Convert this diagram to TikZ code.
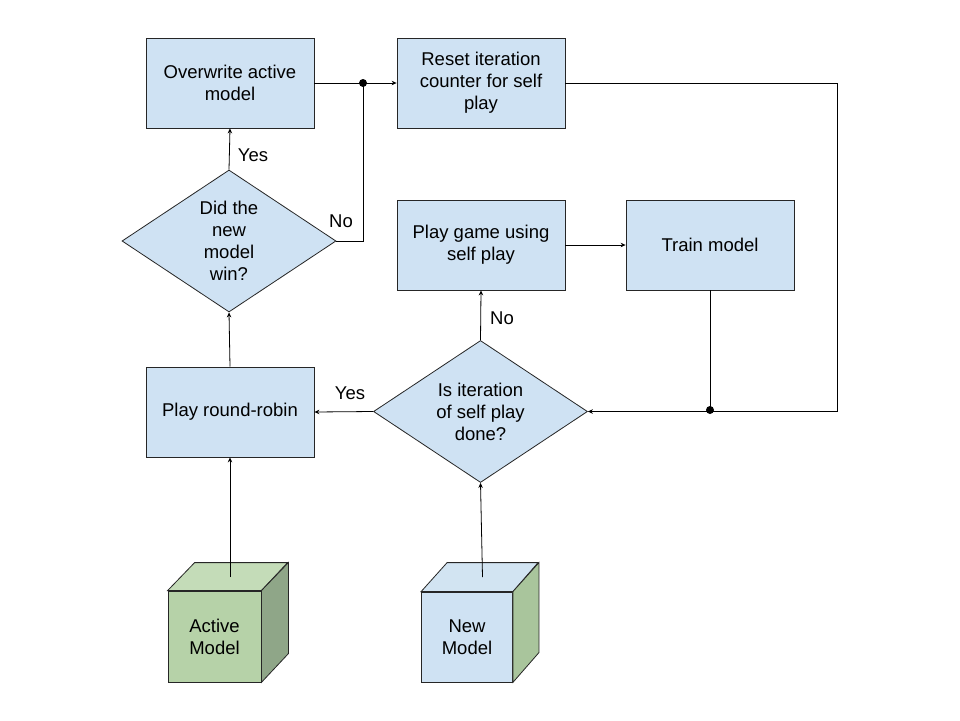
\documentclass[tikz,border=0pt]{standalone}
\usepackage{fontspec}
\setmainfont{Liberation Sans}
\usetikzlibrary{shapes.geometric,arrows.meta}
\definecolor{boxblue}{HTML}{CFE2F3}
\definecolor{amfront}{HTML}{B6D2A8}
\definecolor{amtop}{HTML}{C4DCB8}
\definecolor{amside}{HTML}{8FA688}
\definecolor{nmside}{HTML}{A9C59C}
\definecolor{nmtop}{HTML}{D2E4F2}
\begin{document}
\begin{tikzpicture}[x=1pt,y=-1pt,
  every node/.style={font=\fontsize{18.5}{22}\selectfont},
  procbox/.style={draw=black!85, line width=0.8pt, fill=boxblue, minimum width=168pt, minimum height=90pt, align=center, inner sep=2pt},
  decision/.style={diamond, draw=black!85, line width=0.8pt, fill=boxblue, aspect=1.5, minimum width=214pt, minimum height=142pt, inner sep=0pt, align=center},
  cubeface/.style={draw=black!85, line width=0.8pt},
  conn/.style={draw=black, line width=0.8pt},
  arr/.style={conn, -{Stealth[length=5pt,width=4.5pt]}},
  junction/.style={circle, fill=black, inner sep=0pt, minimum size=8pt},
  lbl/.style={inner sep=1pt}]
\useasboundingbox (0,0) rectangle (960,720);
\fill[white] (0,0) rectangle (960,720);

% process boxes
\node[procbox] (over) at (230,83) {Overwrite active\\model};
\node[procbox] (reset) at (481,83) {Reset iteration\\counter for self\\play};
\node[procbox] (game) at (481,245) {Play game using\\self play};
\node[procbox] (train) at (710,245) {Train model};
\node[procbox] (rr) at (230,412) {Play round-robin};

% decisions
\node[decision] (win) at (229,241) {Did the\\new\\model\\win?};
\node[decision] (done) at (480.5,411.5) {Is iteration\\of self play\\done?};

% cubes
\node[cubeface, fill=amfront, minimum width=93pt, minimum height=91pt, inner sep=0pt, align=center] (am) at (214.5,636.5) {Active\\Model};
\fill[amtop, cubeface] (am.north west) -- ++(27,-28) -- ++(93,0) -- (am.north east) -- cycle;
\fill[amside, cubeface] (am.north east) -- ++(27,-28) -- ++(0,91) -- (am.south east) -- cycle;
\coordinate (amtopc) at (230,577);

\node[cubeface, fill=boxblue, minimum width=91pt, minimum height=90pt, inner sep=0pt, align=center] (nm) at (467,637) {New\\Model};
\fill[nmtop, cubeface] (nm.north west) -- ++(26,-29) -- ++(91,0) -- (nm.south east |- nm.north) -- cycle;
\fill[nmside, cubeface] (nm.north east) -- ++(26,-29) -- ++(0,90) -- (nm.south east) -- cycle;
\coordinate (nmtopc) at (482.5,577);

% junctions
\node[junction] (j1) at (363,83) {};
\node[junction] (j2) at (710,410) {};
\coordinate (rc) at (837,83);

% connectors
\draw[arr] (amtopc) -- (rr.south);
\draw[arr] (nmtopc) -- (done.south);
\draw[arr] (rr.north) -- (win.south);
\draw[arr] (win.north) -- (over.south);
\draw[conn] (win.east) -| (j1.center);
\draw[arr] (over.east) -- (reset.west);
\draw[arr] (done.north) -- (game.south);
\draw[arr] (done.west) -- (rr.east);
\draw[arr] (game.east) -- (train.west);
\draw[conn] (train.south) -- (j2.center);
\draw[arr] (reset.east) -- (rc) |- (done.east);

% labels
\node[lbl] (lyes1) at (253,155) {Yes};
\node[lbl] (lno1) at (341,221) {No};
\node[lbl] (lno2) at (502,318) {No};
\node[lbl] (lyes2) at (350,393) {Yes};
\end{tikzpicture}
\end{document}
